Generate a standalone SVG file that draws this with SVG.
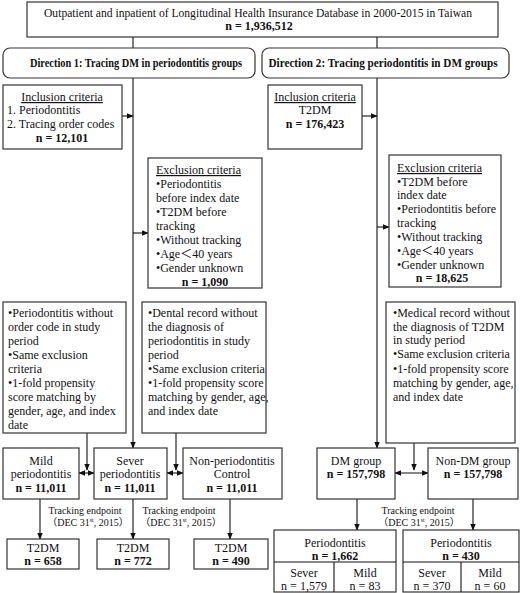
<svg xmlns="http://www.w3.org/2000/svg" width="520" height="593" viewBox="0 0 520 593">
<defs>
<style>
text{font-family:"Liberation Serif","Noto Sans CJK SC",serif;font-size:12px;fill:#111}
.b{font-weight:bold}
.c{text-anchor:middle}
.u{text-decoration:underline}
.s{font-size:10px}
.box{fill:#fff;stroke:#333;stroke-width:1.2}
.ln{fill:none;stroke:#111;stroke-width:1.1}
.arr{marker-end:url(#ah)}
.dbl{marker-start:url(#ahs);marker-end:url(#ah)}
</style>
<marker id="ah" viewBox="0 0 10 10" refX="9" refY="5" markerWidth="7" markerHeight="7" markerUnits="userSpaceOnUse" orient="auto"><path d="M0,1 L10,5 L0,9 Z" fill="#111"/></marker>
<marker id="ahs" viewBox="0 0 10 10" refX="1" refY="5" markerWidth="7" markerHeight="7" markerUnits="userSpaceOnUse" orient="auto"><path d="M10,1 L0,5 L10,9 Z" fill="#111"/></marker>
</defs>
<rect width="520" height="593" fill="#fff"/>
<g id="connectors">
<line class="ln" x1="133" y1="37" x2="133" y2="48"/>
<line class="ln" x1="377" y1="37" x2="377" y2="48"/>
<line class="ln arr" x1="133" y1="78" x2="133" y2="448"/>
<line class="ln arr" x1="377" y1="78" x2="377" y2="448"/>
<line class="ln arr" x1="122" y1="116" x2="133" y2="116"/>
<line class="ln arr" x1="362" y1="116" x2="377" y2="116"/>
<line class="ln arr" x1="133" y1="233" x2="148" y2="233"/>
<line class="ln arr" x1="377" y1="227" x2="389" y2="227"/>
<line class="ln arr" x1="87" y1="433" x2="87" y2="470"/>
<line class="ln arr" x1="176" y1="433" x2="176" y2="470"/>
<line class="ln arr" x1="414" y1="443" x2="414" y2="470"/>
<line class="ln dbl" x1="79" y1="473" x2="94" y2="473"/>
<line class="ln dbl" x1="167" y1="473" x2="183" y2="473"/>
<line class="ln dbl" x1="395" y1="473" x2="428" y2="473"/>
<line class="ln arr" x1="40" y1="499" x2="40" y2="539"/>
<line class="ln arr" x1="133" y1="499" x2="133" y2="539"/>
<line class="ln arr" x1="230" y1="499" x2="230" y2="539"/>
<line class="ln arr" x1="357" y1="499" x2="357" y2="530"/>
<line class="ln arr" x1="473" y1="499" x2="473" y2="530"/>
<text class="c s" x="85" y="514">Tracking endpoint</text>
<text class="c s" x="88" y="526">（DEC 31<tspan font-size="6" dy="-4">st</tspan><tspan dy="4">, 2015）</tspan></text>
<text class="c s" x="179" y="514">Tracking endpoint</text>
<text class="c s" x="181" y="526">（DEC 31<tspan font-size="6" dy="-4">st</tspan><tspan dy="4">, 2015）</tspan></text>
<text class="c s" x="418" y="514">Tracking endpoint</text>
<text class="c s" x="419" y="526">（DEC 31<tspan font-size="6" dy="-4">st</tspan><tspan dy="4">, 2015）</tspan></text>
</g>
<g id="top">
<rect class="box" x="27" y="2" width="471" height="35"/>
<text class="c" x="258" y="17" textLength="428" lengthAdjust="spacingAndGlyphs">Outpatient and inpatient of Longitudinal Health Insurance Database in 2000-2015 in Taiwan</text>
<text class="c b" x="259" y="30">n = 1,936,512</text>
</g>
<g id="dir1">
<rect class="box" x="3" y="48" width="252" height="30" rx="7"/>
<text class="c b" x="136" y="67" textLength="212" lengthAdjust="spacingAndGlyphs">Direction 1: Tracing DM in periodontitis groups</text>
</g>
<g id="dir2">
<rect class="box" x="262" y="48" width="247" height="30" rx="7"/>
<text class="c b" x="383" y="67" textLength="229" lengthAdjust="spacingAndGlyphs">Direction 2: Tracing periodontitis in DM groups</text>
</g>
<g id="incl1">
<rect class="box" x="3" y="85" width="119" height="64"/>
<text class="c u" x="62" y="101">Inclusion criteria</text>
<text x="7" y="114">1. Periodontitis</text>
<text x="7" y="128">2. Tracing order codes</text>
<text class="c b" x="62" y="142">n = 12,101</text>
</g>
<g id="incl2">
<rect class="box" x="268" y="85" width="94" height="64"/>
<text class="c u" x="315" y="101">Inclusion criteria</text>
<text class="c" x="315" y="114">T2DM</text>
<text class="c b" x="315" y="128">n = 176,423</text>
</g>
<g id="excl1">
<rect class="box" x="148" y="158" width="114" height="130"/>
<text class="u" x="156" y="174">Exclusion criteria</text>
<text x="156" y="188">•Periodontitis</text>
<text x="156" y="202">before index date</text>
<text x="156" y="216">•T2DM before</text>
<text x="156" y="230">tracking</text>
<text x="156" y="244">•Without tracking</text>
<text x="156" y="258">•Age＜40 years</text>
<text x="156" y="272">•Gender unknown</text>
<text class="c b" x="205" y="286">n = 1,090</text>
</g>
<g id="excl2">
<rect class="box" x="389" y="155" width="112" height="132"/>
<text class="u" x="397" y="172">Exclusion criteria</text>
<text x="397" y="186">•T2DM before</text>
<text x="397" y="199">index date</text>
<text x="397" y="213">•Periodontitis before</text>
<text x="397" y="227">tracking</text>
<text x="397" y="241">•Without tracking</text>
<text x="397" y="255">•Age＜40 years</text>
<text x="397" y="269">•Gender unknown</text>
<text class="c b" x="442" y="282">n = 18,625</text>
</g>
<g id="mildcrit">
<rect class="box" x="3" y="302" width="123" height="131"/>
<text x="8" y="317">•Periodontitis without</text>
<text x="8" y="331">order code in study</text>
<text x="8" y="345">period</text>
<text x="8" y="359">•Same exclusion</text>
<text x="8" y="373">criteria</text>
<text x="8" y="387">•1-fold propensity</text>
<text x="8" y="401">score matching by</text>
<text x="8" y="415">gender, age, and index</text>
<text x="8" y="429">date</text>
</g>
<g id="noncrit">
<rect class="box" x="142" y="302" width="124" height="131"/>
<text x="148" y="317">•Dental record without</text>
<text x="148" y="331">the diagnosis of</text>
<text x="148" y="345">periodontitis in study</text>
<text x="148" y="359">period</text>
<text x="148" y="373">•Same exclusion criteria</text>
<text x="148" y="387">•1-fold propensity score</text>
<text x="148" y="401">matching by gender, age,</text>
<text x="148" y="415">and index date</text>
</g>
<g id="nondmcrit">
<rect class="box" x="386" y="302" width="129" height="141"/>
<text x="393" y="317">•Medical record without</text>
<text x="393" y="331">the diagnosis of T2DM</text>
<text x="393" y="344">in study period</text>
<text x="393" y="358">•Same exclusion criteria</text>
<text x="393" y="373">•1-fold propensity score</text>
<text x="393" y="387">matching by gender, age,</text>
<text x="393" y="401">and index date</text>
</g>
<g id="mild">
<rect class="box" x="3" y="448" width="76" height="51"/>
<text class="c" x="41" y="465">Mild</text>
<text class="c" x="41" y="478">periodontitis</text>
<text class="c b" x="41" y="492">n = 11,011</text>
</g>
<g id="sever">
<rect class="box" x="94" y="448" width="73" height="51"/>
<text class="c" x="130" y="465">Sever</text>
<text class="c" x="130" y="478">periodontitis</text>
<text class="c b" x="130" y="492">n = 11,011</text>
</g>
<g id="nonperio">
<rect class="box" x="183" y="448" width="99" height="51"/>
<text class="c" x="232" y="465">Non-periodontitis</text>
<text class="c" x="232" y="478">Control</text>
<text class="c b" x="232" y="492">n = 11,011</text>
</g>
<g id="dm">
<rect class="box" x="317" y="448" width="78" height="51"/>
<text class="c" x="356" y="465">DM group</text>
<text class="c b" x="356" y="478">n = 157,798</text>
</g>
<g id="nondm">
<rect class="box" x="428" y="448" width="90" height="51"/>
<text class="c" x="473" y="465">Non-DM group</text>
<text class="c b" x="473" y="478">n = 157,798</text>
</g>
<g id="t2dm1">
<rect class="box" x="7" y="539" width="72" height="30"/>
<text class="c" x="43" y="552">T2DM</text>
<text class="c b" x="43" y="565">n = 658</text>
</g>
<g id="t2dm2">
<rect class="box" x="97" y="539" width="72" height="30"/>
<text class="c" x="133" y="552">T2DM</text>
<text class="c b" x="133" y="565">n = 772</text>
</g>
<g id="t2dm3">
<rect class="box" x="194" y="539" width="74" height="30"/>
<text class="c" x="231" y="552">T2DM</text>
<text class="c b" x="231" y="565">n = 490</text>
</g>
<g id="perio1">
<rect class="box" x="274" y="530" width="122" height="62"/>
<line class="ln" x1="274" y1="562" x2="396" y2="562"/>
<line class="ln" x1="334" y1="562" x2="334" y2="592"/>
<text class="c" x="335" y="547">Periodontitis</text>
<text class="c b" x="335" y="560">n = 1,662</text>
<text class="c" x="304" y="577">Sever</text>
<text class="c" x="304" y="590">n = 1,579</text>
<text class="c" x="365" y="577">Mild</text>
<text class="c" x="365" y="590">n = 83</text>
</g>
<g id="perio2">
<rect class="box" x="403" y="530" width="116" height="62"/>
<line class="ln" x1="403" y1="562" x2="519" y2="562"/>
<line class="ln" x1="461" y1="562" x2="461" y2="592"/>
<text class="c" x="461" y="547">Periodontitis</text>
<text class="c b" x="461" y="560">n = 430</text>
<text class="c" x="432" y="577">Sever</text>
<text class="c" x="432" y="590">n = 370</text>
<text class="c" x="490" y="577">Mild</text>
<text class="c" x="490" y="590">n = 60</text>
</g>
</svg>
